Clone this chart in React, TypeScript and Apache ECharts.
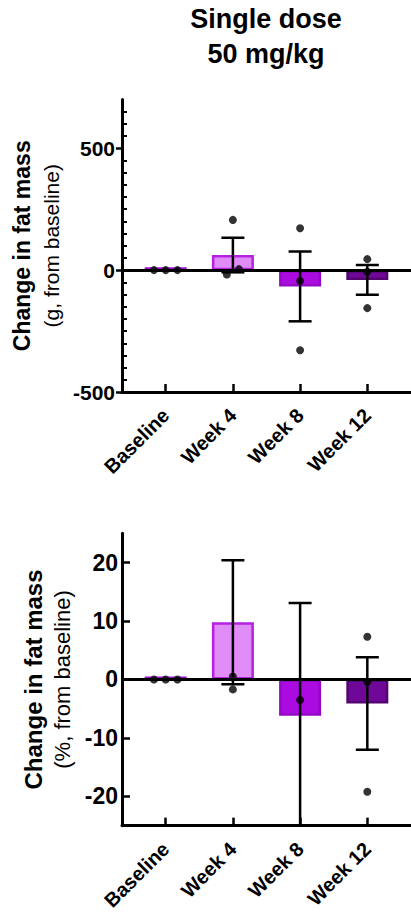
import React, { useEffect, useRef } from 'react';
import * as echarts from 'echarts';

// ---------- data ----------
const categories = ['Baseline', 'Week 4', 'Week 8', 'Week 12'];
const categoryPositions = [0, 1, 2, 3];

// top panel: change in fat mass (g)
const gramMeans = [0, 62, -67, -40];
const gramSems = [0, 71, 143, 61];
const gramPoints = [
  [0, 0, 0],
  [206, -18, 4],
  [172, -44, -329],
  [45, -7, -156],
];
const gramTicks = [-500, 0, 500];

// bottom panel: change in fat mass (%)
const pctMeans = [0, 9.8, -6.2, -4.1];
const pctSems = [0, 10.6, 19.3, 7.9];
const pctPoints = [
  [0, 0, 0],
  [0.5, -1.7],
  [-3.5],
  [7.3, -0.4, -19.2],
];
const pctTicks = [-20, -10, 0, 10, 20];

// ---------- styles ----------
const gramJitter = [[-0.175, 0, 0.175], [0, -0.09, 0.09], [0, 0, 0], [0, 0, 0]];
const pctJitter = [[-0.175, 0, 0.175], [0, 0], [0], [0, 0, 0]];
const barFill = ['#B01CE0', '#DF8CF7', '#AB0BE0', '#6F0899'];
const barBorder = ['#A010D0', '#B520E3', '#9409C4', '#540570'];
const FONT = '"Liberation Sans", Arial, Helvetica, sans-serif';

function buildPanel(
  idx: number,
  means: number[],
  sems: number[],
  points: number[][],
  jitter: number[][],
) {
  const yIdx = idx === 0 ? 0 : 2;
  const bar = {
    type: 'bar',
    xAxisIndex: idx,
    yAxisIndex: yIdx,
    barWidth: 42,
    barMinHeight: 3,
    z: 2,
    data: categoryPositions.map((x, i) => ({
      value: [x, means[i]],
      itemStyle: { color: barFill[i], borderColor: barBorder[i], borderWidth: 2.5 },
    })),
    markLine: {
      silent: true,
      symbol: ['none', 'none'],
      label: { show: false },
      lineStyle: { color: '#000', width: 3, type: 'solid' },
      data: [{ yAxis: 0 }],
      z: 5,
    },
  };
  const err = {
    type: 'custom',
    xAxisIndex: idx,
    yAxisIndex: yIdx,
    z: 6,
    clip: true,
    data: categoryPositions.map((x, i) => [x, means[i], sems[i]]),
    encode: { x: 0, y: 1 },
    renderItem: (params: any, api: any) => {
      const x = api.value(0);
      const m = api.value(1);
      const s = api.value(2);
      if (!s) return null;
      const top = api.coord([x, m + s]);
      const bot = api.coord([x, m - s]);
      const hw = 11.5;
      const style = { stroke: '#000', lineWidth: 2.5 };
      return {
        type: 'group',
        children: [
          { type: 'line', shape: { x1: top[0], y1: top[1], x2: bot[0], y2: bot[1] }, style },
          { type: 'line', shape: { x1: top[0] - hw, y1: top[1], x2: top[0] + hw, y2: top[1] }, style },
          { type: 'line', shape: { x1: bot[0] - hw, y1: bot[1], x2: bot[0] + hw, y2: bot[1] }, style },
        ],
      };
    },
  };
  const dots: number[][] = [];
  points.forEach((arr, i) => {
    arr.forEach((v, j) => dots.push([categoryPositions[i] + jitter[i][j], v]));
  });
  const scatter = {
    type: 'scatter',
    xAxisIndex: idx,
    yAxisIndex: yIdx,
    symbol: 'circle',
    symbolSize: 8,
    z: 7,
    itemStyle: { color: '#000' },
    data: dots,
  };
  return [bar, err, scatter];
}

function xAxis(gridIndex: number) {
  return {
    type: 'value',
    gridIndex,
    min: -0.65,
    max: 3.65,
    axisLine: { show: true, onZero: false, lineStyle: { color: '#000', width: 3 } },
    axisTick: {
      show: true,
      customValues: categoryPositions,
      inside: true,
      length: 8,
      lineStyle: { color: '#000', width: 2.5 },
    },
    axisLabel: {
      show: true,
      customValues: categoryPositions,
      formatter: (v: number) => categories[Math.round(v)] ?? '',
      rotate: 45,
      margin: 20,
      color: '#000',
      fontSize: 20,
      fontWeight: 'bold',
      fontFamily: FONT,
    },
    splitLine: { show: false },
  };
}

export default function App() {
  const ref = useRef<HTMLDivElement>(null);
  useEffect(() => {
    if (!ref.current) return;
    const chart = echarts.init(ref.current, null, { renderer: 'svg' });
    const option: any = {
      animation: false,
      backgroundColor: '#fff',
      textStyle: { fontFamily: FONT },
      graphic: [
        {
          type: 'text',
          x: 266,
          y: 1,
          style: {
            text: 'Single dose\n50 mg/kg',
            font: `bold 27px ${FONT}`,
            fill: '#000',
            textAlign: 'center',
            textVerticalAlign: 'top',
            lineHeight: 35.5,
          },
        },
      ],
      grid: [
        { left: 122, top: 99.5, width: 289, height: 292.5 },
        { left: 122, top: 533.3, width: 289, height: 292.4 },
      ],
      xAxis: [xAxis(0), xAxis(1)],
      yAxis: [
        {
          type: 'value',
          gridIndex: 0,
          min: -500,
          max: 700,
          interval: 500,
          axisLine: { show: true, onZero: false, lineStyle: { color: '#000', width: 3 } },
          axisTick: {
            show: true,
            customValues: gramTicks,
            length: 6,
            lineStyle: { color: '#000', width: 2.5 },
          },
          axisLabel: {
            customValues: gramTicks,
            margin: 7,
            color: '#000',
            fontSize: 21,
            fontWeight: 'bold',
            fontFamily: FONT,
          },
          splitLine: { show: false },
          name: '{b|Change in fat mass}\n{s|(g, from baseline)}',
          nameLocation: 'middle',
          nameRotate: 90,
          nameGap: 51,
          nameTextStyle: {
            rich: {
              b: { fontSize: 23, fontWeight: 'bold', lineHeight: 30, color: '#000', fontFamily: FONT },
              s: { fontSize: 21, lineHeight: 30, color: '#000', fontFamily: FONT },
            },
          },
        },
        {
          type: 'value',
          gridIndex: 0,
          position: 'left',
          min: -500,
          max: 700,
          interval: 500,
          axisLine: { show: false, onZero: false },
          axisTick: { show: false, inside: true },
          minorTick: { show: true, splitNumber: 10, length: 5, lineStyle: { color: '#000', width: 2 } },
          axisLabel: { show: false },
          splitLine: { show: false },
          minorSplitLine: { show: false },
        },
        {
          type: 'value',
          gridIndex: 1,
          min: -25,
          max: 25,
          interval: 5,
          axisLine: { show: true, onZero: false, lineStyle: { color: '#000', width: 3 } },
          axisTick: {
            show: true,
            customValues: pctTicks,
            inside: true,
            length: 8,
            lineStyle: { color: '#000', width: 2.5 },
          },
          axisLabel: {
            customValues: pctTicks,
            margin: 4,
            color: '#000',
            fontSize: 23,
            fontWeight: 'bold',
            fontFamily: FONT,
          },
          splitLine: { show: false },
          name: '{b|Change in fat mass}\n{s|(%, from baseline)}',
          nameLocation: 'middle',
          nameRotate: 90,
          nameGap: 41,
          nameTextStyle: {
            rich: {
              b: { fontSize: 24, fontWeight: 'bold', lineHeight: 29, color: '#000', fontFamily: FONT },
              s: { fontSize: 22, lineHeight: 29, color: '#000', fontFamily: FONT },
            },
          },
        },
      ],
      series: [
        ...buildPanel(0, gramMeans, gramSems, gramPoints, gramJitter),
        ...buildPanel(1, pctMeans, pctSems, pctPoints, pctJitter),
      ],
    };
    chart.setOption(option);
    return () => chart.dispose();
  }, []);
  return (
    <div
      ref={ref}
      style={{ position: 'fixed', left: 0, top: 0, width: 411, height: 913, background: '#fff' }}
    />
  );
}
